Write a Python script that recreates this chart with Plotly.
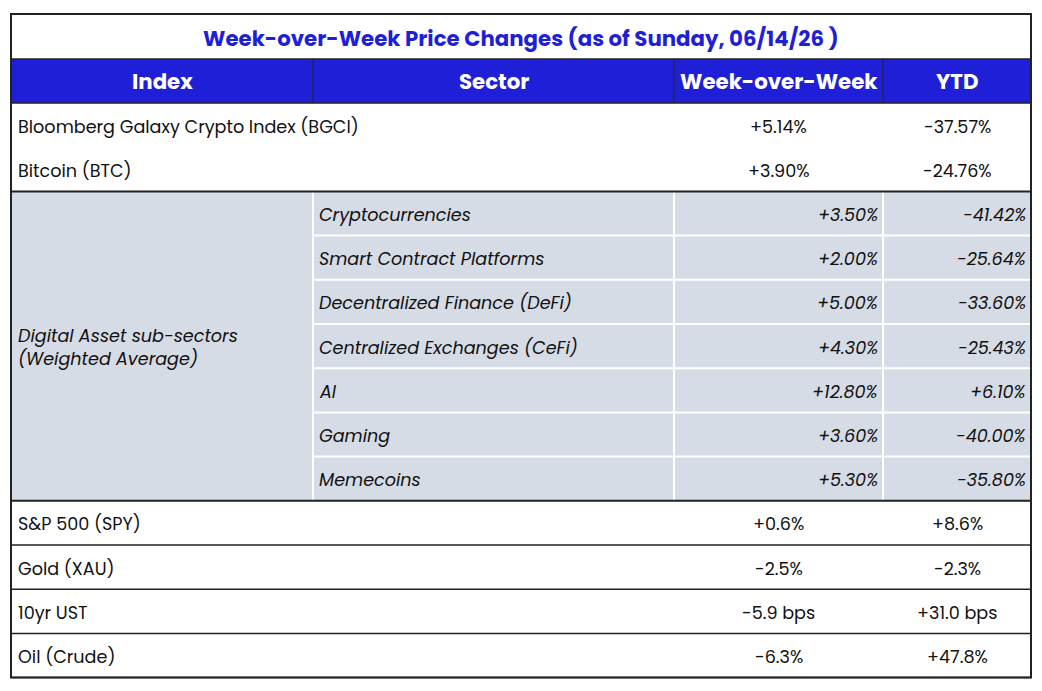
import plotly.graph_objects as go

title = "Week-over-Week Price Changes (as of Sunday, 06/14/26 )"
headers = ["Index", "Sector", "Week-over-Week", "YTD"]
top_names = ["Bloomberg Galaxy Crypto Index (BGCI)", "Bitcoin (BTC)"]
top_wow = ["+5.14%", "+3.90%"]
top_ytd = ["-37.57%", "-24.76%"]
sub_group = "Digital Asset sub-sectors<br>(Weighted Average)"
sectors = ["Cryptocurrencies", "Smart Contract Platforms", "Decentralized Finance (DeFi)",
           "Centralized Exchanges (CeFi)", "AI", "Gaming", "Memecoins"]
sec_wow = ["+3.50%", "+2.00%", "+5.00%", "+4.30%", "+12.80%", "+3.60%", "+5.30%"]
sec_ytd = ["-41.42%", "-25.64%", "-33.60%", "-25.43%", "+6.10%", "-40.00%", "-35.80%"]
bot_names = ["S&P 500 (SPY)", "Gold (XAU)", "10yr UST", "Oil (Crude)"]
bot_wow = ["+0.6%", "-2.5%", "-5.9 bps", "-6.3%"]
bot_ytd = ["+8.6%", "-2.3%", "+31.0 bps", "+47.8%"]

# layout geometry (pixels)
XL, X1, X2, X3, XR = 11, 313, 674, 883, 1031
YT, YH, YB = 14, 59, 103
RH = 44.2
DY = 1.5
FONT = "Poppins, Inter, 'Open Sans', sans-serif"
BLUE = "#1f1fd8"
GREY = "#d6dce5"
DARK = "#222222"
shapes, ann = [], []

def rect(x0, y0, x1, y1, fill, line=None, w=0):
    shapes.append(dict(type="rect", xref="x", yref="y", x0=x0, y0=y0, x1=x1, y1=y1,
                       fillcolor=fill, line=dict(color=line or fill, width=w), layer="below"))

def hline(y, x0, x1, color=DARK, w=1.5):
    shapes.append(dict(type="line", xref="x", yref="y", x0=x0, x1=x1, y0=y, y1=y,
                       line=dict(color=color, width=w)))

def vline(x, y0, y1, color=DARK, w=1.5):
    shapes.append(dict(type="line", xref="x", yref="y", x0=x, x1=x, y0=y0, y1=y1,
                       line=dict(color=color, width=w)))

def text(x, y, s, anchor="left", size=17.6, color="#111111", italic=False, bold=False):
    if bold:
        s = "<b>" + s + "</b>"
    if italic:
        s = "<i>" + s + "</i>"
    ann.append(dict(x=x, y=y, xref="x", yref="y", text=s, showarrow=False, xanchor=anchor,
                    yanchor="middle", align=anchor if anchor != "center" else "center",
                    font=dict(family=FONT, size=size, color=color)))

text((XL + XR) / 2, (YT + YH) / 2 + 1.5, title, "center", 21.3, BLUE, bold=True)
rect(XL, YH, XR, YB, BLUE)
cols = [XL, X1, X2, X3, XR]
for i, h in enumerate(headers):
    text((cols[i] + cols[i + 1]) / 2, (YH + YB) / 2 + 0.5, h, "center", 21.3, "white", bold=True)
for x in [X1, X2, X3]:
    vline(x, YH, YB, DARK, 1)
hline(YH, XL, XR, DARK, 1.5)
hline(YB, XL, XR, DARK, 1.5)

y = YB
for n, w_, t in zip(top_names, top_wow, top_ytd):
    c = y + RH / 2 + DY
    text(XL + 5, c, n)
    text((X2 + X3) / 2, c, w_, "center")
    text((X3 + XR) / 2, c, t, "center")
    y += RH
ys = y
ye = ys + RH * len(sectors)
rect(XL, ys, XR, ye, GREY)
text(XL + 5, (ys + ye) / 2 + DY, sub_group, italic=True)
for i, (s, w_, t) in enumerate(zip(sectors, sec_wow, sec_ytd)):
    c = ys + RH * i + RH / 2 + DY
    text(X1 + 4, c, s, italic=True)
    text(X3 - 3, c, w_, "right", italic=True)
    text(XR - 3, c, t, "right", italic=True)
    if i > 0:
        hline(ys + RH * i, X1, XR, "white", 2)
for x in [X1, X2, X3]:
    vline(x, ys, ye, "white", 2)
hline(ys, XL, XR, DARK, 2)
hline(ye, XL, XR, DARK, 2)
y = ye
for n, w_, t in zip(bot_names, bot_wow, bot_ytd):
    c = y + RH / 2 + DY
    text(XL + 5, c, n)
    text((X2 + X3) / 2, c, w_, "center")
    text((X3 + XR) / 2, c, t, "center")
    y += RH
    hline(y, XL, XR, DARK, 1.5)
shapes.append(dict(type="rect", xref="x", yref="y", x0=XL, y0=YT, x1=XR, y1=y,
                   line=dict(color=DARK, width=2), fillcolor="rgba(0,0,0,0)"))

OFF = 8
W, H = 1042 - 2 * OFF, 691 - 2 * OFF
fig = go.Figure(go.Scatter(x=[OFF, OFF + W], y=[OFF, OFF + H], mode="markers", marker=dict(opacity=0),
                           hoverinfo="skip", showlegend=False))
fig.update_layout(width=W, height=H, margin=dict(l=0, r=0, t=0, b=0),
                  plot_bgcolor="white", paper_bgcolor="white", shapes=shapes, annotations=ann,
                  xaxis=dict(range=[OFF, OFF + W], visible=False, fixedrange=True),
                  yaxis=dict(range=[OFF + H, OFF], visible=False, fixedrange=True))
fig.write_html("out.html", config={"displayModeBar": False})
